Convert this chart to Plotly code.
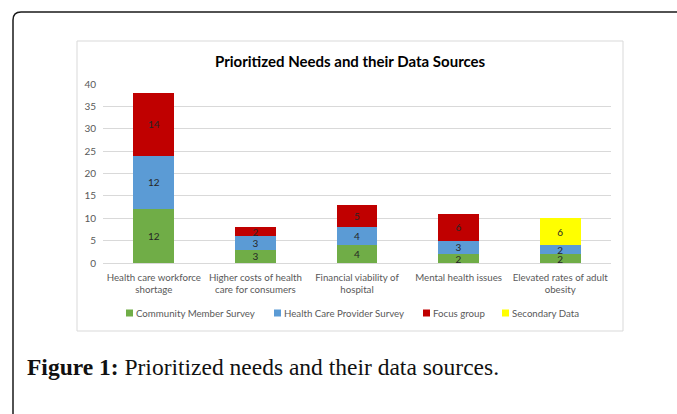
import plotly.graph_objects as go

categories = [
    "Health care workforce<br>shortage",
    "Higher costs of health<br>care for consumers",
    "Financial viability of<br>hospital",
    "Mental health issues",
    "Elevated rates of adult<br>obesity",
]
series_names = ["Community Member Survey", "Health Care Provider Survey", "Focus group", "Secondary Data"]
community = [12, 3, 4, 2, 2]
provider = [12, 3, 4, 3, 2]
focus = [14, 2, 5, 6, None]
secondary = [None, None, None, None, 6]
y_ticks = [0, 5, 10, 15, 20, 25, 30, 35, 40]

colors = ["#70AD47", "#5B9BD5", "#C00000", "#FFFF00"]
W, H = 677, 414
L, R, T, B = 103, 611, 84, 263


def fx(px):
    return (px - L) / (R - L)


def fy(py):
    return (B - py) / (B - T)


fig = go.Figure()
for name, vals, col in zip(series_names, [community, provider, focus, secondary], colors):
    fig.add_trace(go.Bar(
        x=categories, y=vals, name=name,
        marker=dict(color=col, line=dict(width=0)),
        text=[("" if v is None else str(v)) for v in vals],
        textposition="inside", insidetextanchor="middle", constraintext="none",
        textangle=0,
        textfont=dict(family="Lato", size=10, color="#262626"),
        cliponaxis=False, showlegend=False,
    ))

r = 8
shapes = [
    # outer rounded frame
    dict(type="path", xref="paper", yref="paper",
         path=(f"M {fx(13)},{fy(440)} L {fx(13)},{fy(12 + r)} "
               f"Q {fx(13)},{fy(12)} {fx(13 + r)},{fy(12)} L {fx(720)},{fy(12)}"),
         line=dict(color="#1a1a1a", width=1.5), layer="below"),
    # inner chart box
    dict(type="rect", xref="paper", yref="paper",
         x0=fx(77), x1=fx(623), y0=fy(331), y1=fy(41),
         line=dict(color="#d9d9d9", width=1), layer="below"),
]

annotations = [
    dict(text="<b>Prioritized Needs and their Data Sources</b>", xref="paper", yref="paper",
         x=fx(350), y=fy(61), xanchor="center", yanchor="middle", showarrow=False,
         font=dict(family="Lato", size=15, color="#000000")),
    dict(text="<b>Figure 1:</b> Prioritized needs and their data sources.", xref="paper", yref="paper",
         x=fx(25), y=fy(367), xanchor="left", yanchor="middle", showarrow=False,
         font=dict(family="Liberation Serif", size=23.5, color="#111111")),
]

# legend built from the series names and colours
legend_x = [126, 274, 423, 502]
legend_y = 313
for name, col, lx in zip(series_names, colors, legend_x):
    shapes.append(dict(type="rect", xref="paper", yref="paper",
                       x0=fx(lx), x1=fx(lx + 7), y0=fy(legend_y + 3.5), y1=fy(legend_y - 3.5),
                       fillcolor=col, line=dict(width=0)))
    annotations.append(dict(text=name, xref="paper", yref="paper", x=fx(lx + 8), y=fy(legend_y),
                            xanchor="left", yanchor="middle", showarrow=False,
                            font=dict(family="Lato", size=9.7, color="#595959")))

fig.update_layout(
    width=W, height=H,
    margin=dict(l=L, r=W - R, t=T, b=H - B, pad=0),
    paper_bgcolor="white", plot_bgcolor="white",
    barmode="stack", bargap=0.6,
    showlegend=False,
    shapes=shapes, annotations=annotations,
    xaxis=dict(showgrid=False, showline=False, ticks="", tickangle=0, ticklabelstandoff=7,
               tickfont=dict(family="Lato", size=9.7, color="#595959"), fixedrange=True),
    yaxis=dict(range=[0, 40], tickvals=y_ticks, showgrid=True, gridcolor="#d9d9d9", gridwidth=1,
               zeroline=True, zerolinecolor="#d9d9d9", zerolinewidth=1, showline=False,
               tickfont=dict(family="Lato", size=10, color="#595959"), ticklabelstandoff=6,
               fixedrange=True),
)

fig.write_html("out.html")
